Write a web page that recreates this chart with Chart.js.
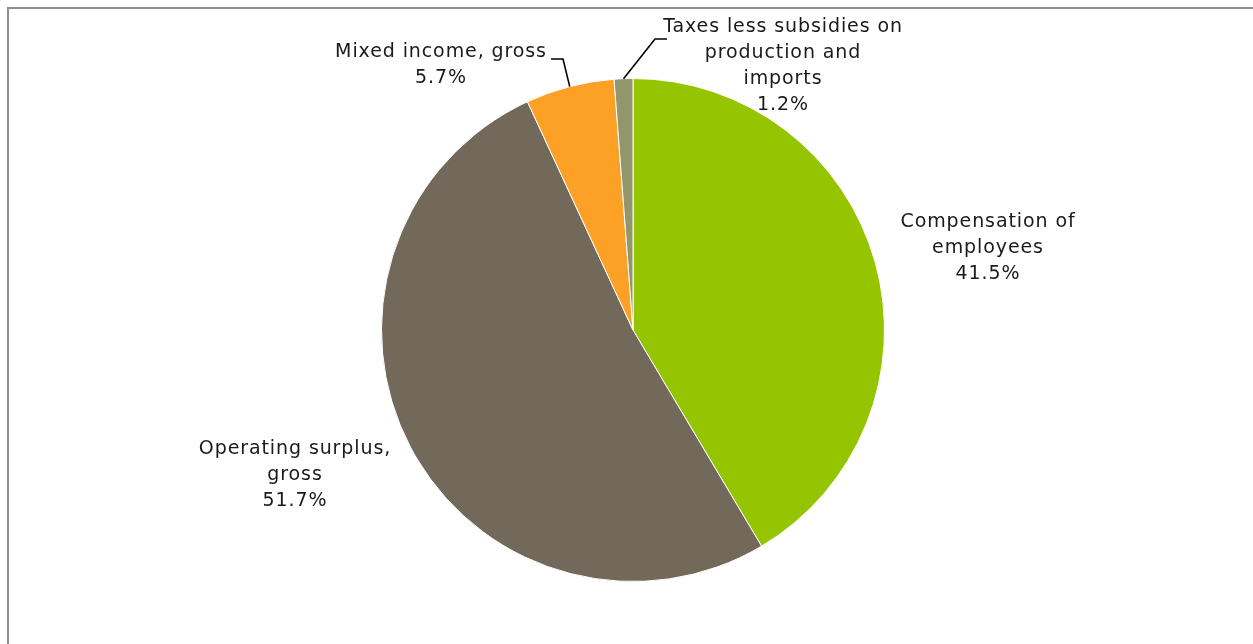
<!DOCTYPE html>
<html>
<head>
<meta charset="utf-8">
<script src="https://cdn.jsdelivr.net/npm/chart.js@4.4.1/dist/chart.umd.min.js"></script>
<style>
  html, body { margin: 0; padding: 0; background: #fff; overflow: hidden; }
  #wrap { position: relative; width: 1253px; height: 644px; }
  #frame {
    position: absolute; left: 7px; top: 7px; width: 1400px; height: 800px;
    border-left: 2px solid #8e8e8e; border-top: 2px solid #8e8e8e;
  }
  canvas { position: absolute; left: 0; top: 0; }
</style>
</head>
<body>
<div id="wrap">
  <div id="frame"></div>
  <canvas id="pieChart" width="1253" height="644"></canvas>
</div>
<script>
// ---------------- DATA ----------------
const categories = [
  "Compensation of employees",
  "Operating surplus, gross",
  "Mixed income, gross",
  "Taxes less subsidies on production and imports"
];
const shares = [41.5, 51.7, 5.7, 1.2];
const sliceColors = ["#94c500", "#73695a", "#fca126", "#93956b"];

// label text wrapping (as in the original)
const labelLines = [
  ["Compensation of", "employees"],
  ["Operating surplus,", "gross"],
  ["Mixed income, gross"],
  ["Taxes less subsidies on", "production and", "imports"]
];

// ---------------- LABEL LAYOUT ----------------
// label block centre, relative to pie centre (px)
const labelPos = [
  { dx: 355, dy: -82 },
  { dx: -338, dy: 145 },
  { dx: -192, dy: -265, leader: { ex: 563, ey: 59, tx: 551 } },
  { dx: 150, dy: -264, leader: { ex: 655, ey: 39, tx: 667 } }
];

const labelPlugin = {
  id: "pieLabels",
  afterDraw(chart) {
    const ctx = chart.ctx;
    const arcs = chart.getDatasetMeta(0).data;
    const lineH = 26;
    ctx.save();
    ctx.font = "19px 'DejaVu Sans'";
    ctx.letterSpacing = "0.9px";
    ctx.fillStyle = "#1a1a1a";
    ctx.textAlign = "center";
    ctx.textBaseline = "middle";

    arcs.forEach((arc, i) => {
      const lines = labelLines[i].concat([shares[i].toFixed(1) + "%"]);
      const pos = labelPos[i];
      const cx = arc.x + pos.dx;
      const cy = arc.y + pos.dy;
      const top = cy - (lines.length - 1) * lineH / 2;
      lines.forEach((t, k) => ctx.fillText(t, cx, top + k * lineH));

      if (pos.leader) {
        const mid = (arc.startAngle + arc.endAngle) / 2;
        const px = arc.x + Math.cos(mid) * arc.outerRadius;
        const py = arc.y + Math.sin(mid) * arc.outerRadius;
        ctx.beginPath();
        ctx.strokeStyle = "#000";
        ctx.lineWidth = 1.6;
        ctx.moveTo(px, py);
        ctx.lineTo(pos.leader.ex, pos.leader.ey);
        ctx.lineTo(pos.leader.tx, pos.leader.ey);
        ctx.stroke();
      }
    });
    ctx.restore();
  }
};

// ---------------- PIE CHART ----------------
const ctx1 = document.getElementById("pieChart").getContext("2d");
new Chart(ctx1, {
  type: "pie",
  data: {
    labels: categories,
    datasets: [{
      data: shares,
      backgroundColor: sliceColors,
      borderColor: "#ffffff",
      borderWidth: 1
    }]
  },
  options: {
    responsive: false,
    animation: false,
    layout: { padding: { top: 78, bottom: 62, left: 13, right: 0 } },
    plugins: {
      legend: { display: false },
      tooltip: { enabled: false }
    }
  },
  plugins: [labelPlugin]
});
</script>
</body>
</html>
